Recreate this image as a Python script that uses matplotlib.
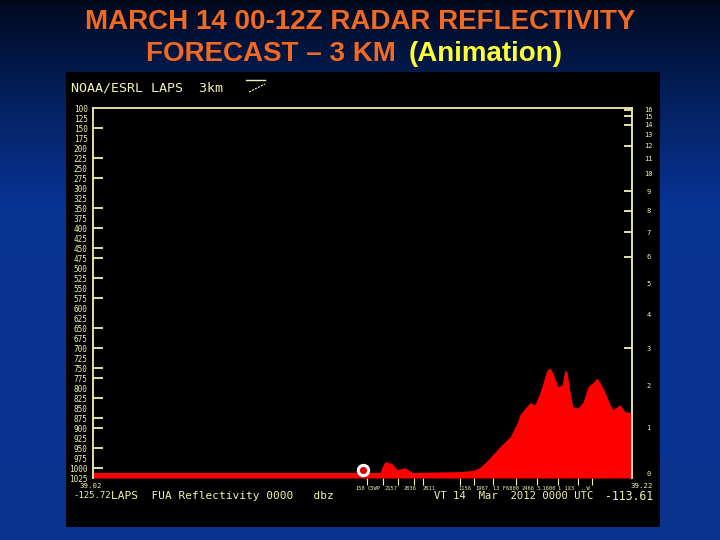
import numpy as np
import matplotlib
matplotlib.use("Agg")
import matplotlib.pyplot as plt
from matplotlib.lines import Line2D
from matplotlib.patches import Rectangle
from matplotlib.transforms import blended_transform_factory

# ---------------- data ----------------
# echo-top profile along the cross-section (longitude, pressure hPa)
profile_lon = [-125.72, -119.27, -119.23, -119.16, -119.00, -118.89, -118.71, -118.55,
               -117.47, -117.18, -117.03, -116.80, -116.58, -116.35, -116.19, -116.13,
               -116.01, -115.90, -115.79, -115.68, -115.52, -115.45, -115.39, -115.27,
               -115.18, -115.12, -115.07, -115.00, -114.94, -114.82, -114.71, -114.60,
               -114.49, -114.40, -114.33, -114.22, -114.10, -114.04, -113.88, -113.77,
               -113.61]
profile_p = [1011, 1011, 999, 984, 989, 1004, 999, 1011,
             1009, 1006, 999, 974, 947, 922, 887, 867,
             850, 837, 842, 812, 755, 750, 762, 797,
             792, 755, 760, 812, 847, 850, 835, 797,
             787, 775, 787, 810, 842, 854, 842, 859,
             862]

marker_lon = [-119.65]
marker_p = [1004]

pressure_labels = list(range(100, 1026, 25))
left_tick_p = [150, 225, 275, 350, 400, 450, 475, 525, 575, 650, 700, 750, 775,
               825, 875, 900, 950, 1000]

km_labels = [str(k) for k in range(0, 17)]
km_pressure = [1013, 899, 795, 701, 617, 540, 472, 411, 357, 308, 265, 227, 194,
               166, 142, 121, 104]
right_tick_km = [16, 15, 14, 12, 9, 8, 7, 6, 3]

station_tick_lon = [-119.56, -119.20, -118.87, -118.51, -118.31, -117.47, -117.16,
                    -116.73, -116.22, -115.74, -115.27, -114.82, -114.51]
station_names = ["158", "C5WP", "2157", "2036", "2011", "1156", "1967", "13 F6800",
                 "2466", "3.1600", "1 1X3", "..W"]
station_name_lon = [-119.83, -119.54, -119.16, -118.75, -118.31, -117.50, -117.12,
                    -116.73, -116.08, -115.74, -115.27, -114.76]

lon_min, lon_max = -125.72, -113.61
lat_left, lat_right = "39.02", "39.22"
p_top, p_bot = 100, 1025

title1 = "MARCH 14 00-12Z RADAR REFLECTIVITY"
title2a = "FORECAST \u2013 3 KM "
title2b = "(Animation)"

# ---------------- figure ----------------
W, H = 720, 540
fig = plt.figure(figsize=(W / 100, H / 100), dpi=100)

def fx(x):
    return x / W

def fy(y):
    return 1 - y / H

# background gradient + black panel (in a background axes)
bg = fig.add_axes([0, 0, 1, 1], zorder=-5)
bg.set_axis_off()
ys = np.linspace(0, 1, 300)[:, None]
top = np.array([0.0, 0.03, 0.10])
mid = np.array([0.03, 0.20, 0.58])
bot = np.array([0.04, 0.20, 0.56])
t1 = np.clip(ys / 0.38, 0, 1)
t2 = np.clip((ys - 0.38) / 0.62, 0, 1)
col = top + (mid - top) * (t1 ** 0.8)[..., None]
col = col + (bot - mid) * t2[..., None]
img = np.repeat(col, 10, axis=1)
bg.imshow(img, aspect="auto", extent=[0, 1, 0, 1], origin="upper")
bg.set_xlim(0, 1)
bg.set_ylim(0, 1)
bg.add_patch(Rectangle((fx(66), fy(527)), fx(660) - fx(66), fy(72) - fy(527),
                       transform=bg.transAxes, facecolor="black",
                       edgecolor="none", zorder=3))

# titles
orange = "#f26a21"
yellow_t = "#ffff33"
tfont = dict(family="Liberation Sans", weight="bold", fontsize=20)
fig.text(0.5, fy(29), title1, ha="center", va="baseline", color=orange, **tfont)
fig.text(fx(404), fy(61), title2a, ha="right", va="baseline", color=orange, **tfont)
fig.text(fx(409), fy(61), title2b, ha="left", va="baseline", color=yellow_t, **tfont)

# ---------------- main axes ----------------
ylw = "#f2f2b0"
ax = fig.add_axes([fx(93), fy(478), fx(632) - fx(93), fy(108) - fy(478)], zorder=2)
ax.set_facecolor("black")
ax.set_xlim(lon_min, lon_max)
ax.set_ylim(p_bot, p_top)

ax.fill_between(profile_lon, profile_p, p_bot, color="#ff0000", linewidth=0, zorder=2)
ax.scatter(marker_lon, marker_p, s=55, facecolor="#e00000", edgecolor="white",
           linewidth=2.2, zorder=4, clip_on=False)

for s in ["left", "top", "right"]:
    ax.spines[s].set_color(ylw)
    ax.spines[s].set_linewidth(1.3)
ax.spines["bottom"].set_visible(False)

mono = "DejaVu Sans Mono"

# left axis: tick marks (major) + pressure labels (minor)
ax.yaxis.remove_overlapping_locs = False
ax.set_yticks(left_tick_p)
ax.set_yticklabels([])
ax.set_yticks(pressure_labels, minor=True)
ax.set_yticklabels([str(p) for p in pressure_labels], minor=True,
                   fontsize=5.6, family=mono, color=ylw)
ax.tick_params(axis="y", which="major", direction="in", length=7, width=1.3, color=ylw)
ax.tick_params(axis="y", which="minor", length=0, pad=4)

# bottom station ticks
ax.set_xticks(station_tick_lon)
ax.set_xticklabels([])
ax.tick_params(axis="x", which="major", direction="out", length=5, width=0.8,
               color=ylw)
trans = blended_transform_factory(ax.transData, ax.transAxes)
for name, lon in zip(station_names, station_name_lon):
    ax.text(lon, -0.028, name, transform=trans, ha="left", va="center",
            fontsize=3.9, family=mono, color=ylw)

# right axis: height km
ax2 = ax.twinx()
ax2.set_ylim(p_bot, p_top)
ax2.yaxis.remove_overlapping_locs = False
for s in ax2.spines.values():
    s.set_visible(False)
ax2.set_yticks([km_pressure[k] for k in right_tick_km])
ax2.set_yticklabels([])
ax2.set_yticks(km_pressure, minor=True)
ax2.set_yticklabels(km_labels, minor=True, fontsize=5, family=mono, color=ylw,
                    ha="center")
ax2.tick_params(axis="y", which="major", direction="in", length=6, width=1.3, color=ylw)
ax2.tick_params(axis="y", which="minor", length=0, pad=12)

# ---------------- panel texts ----------------
fig.text(fx(71), fy(88), "NOAA/ESRL LAPS  3km", ha="left", va="center",
         fontsize=9.6, family=mono, color=ylw)
fig.add_artist(Line2D([fx(246), fx(265)], [fy(80), fy(80)], color=ylw, lw=1,
                      transform=fig.transFigure))
fig.add_artist(Line2D([fx(249), fx(265)], [fy(92), fy(84)], color=ylw, lw=0.8,
                      linestyle=(0, (2, 1)), transform=fig.transFigure))

fig.text(fx(80), fy(486), lat_left, ha="left", va="center", fontsize=5.3,
         family=mono, color=ylw)
fig.text(fx(73), fy(496), "%.2f" % lon_min, ha="left", va="center", fontsize=6.5,
         family=mono, color=ylw)
fig.text(fx(111), fy(496), "LAPS  FUA Reflectivity 0000   dbz", ha="left",
         va="center", fontsize=8, family=mono, color=ylw)

fig.text(fx(434), fy(496), "VT 14  Mar  2012 0000 UTC", ha="left", va="center",
         fontsize=7.6, family=mono, color=ylw)
fig.text(fx(653), fy(486), lat_right, ha="right", va="center", fontsize=5.3,
         family=mono, color=ylw)
fig.text(fx(653), fy(496), "%.2f" % lon_max, ha="right", va="center", fontsize=8.3,
         family=mono, color=ylw)

fig.savefig("out.png", dpi=100, facecolor="black")
